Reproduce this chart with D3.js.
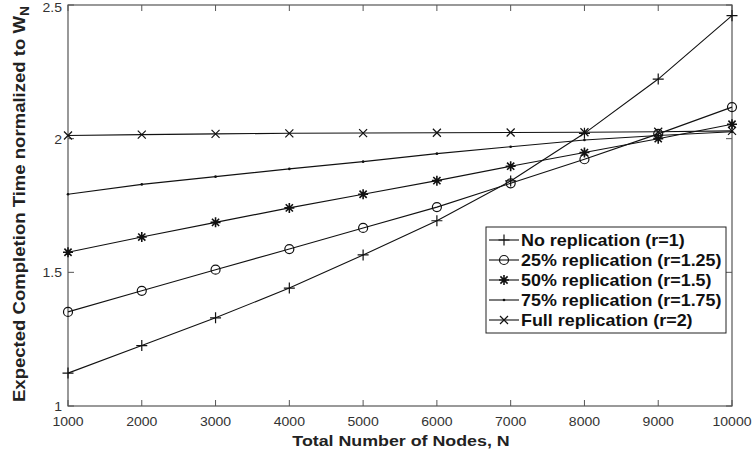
<!DOCTYPE html>
<html><head><meta charset="utf-8">
<script src="https://cdn.jsdelivr.net/npm/d3@7/dist/d3.min.js"></script>
<style>body{margin:0;background:#fff;} svg{display:block;font-family:"Liberation Sans",Arial,sans-serif;}</style>
</head><body>
<svg id="chart" width="753" height="452"></svg>
<script>
const nodes = [1000,2000,3000,4000,5000,6000,7000,8000,9000,10000];
const noRep   = [1.123,1.226,1.330,1.441,1.565,1.693,1.842,2.020,2.223,2.460];
const rep25   = [1.352,1.431,1.510,1.587,1.666,1.744,1.833,1.923,2.018,2.118];
const rep50   = [1.575,1.632,1.687,1.741,1.792,1.843,1.897,1.948,2.000,2.054];
const rep75   = [1.792,1.829,1.858,1.887,1.914,1.944,1.970,1.995,2.012,2.026];
const repFull = [2.012,2.015,2.018,2.020,2.021,2.022,2.023,2.024,2.026,2.029];
const seriesNames = ["No replication (r=1)","25% replication (r=1.25)","50% replication (r=1.5)","75% replication (r=1.75)","Full replication (r=2)"];
const markers = ["plus","circle","star","dot","cross"];
const xTicks = [1000,2000,3000,4000,5000,6000,7000,8000,9000,10000];
const yTicks = [1,1.5,2,2.5];

const series = [noRep,rep25,rep50,rep75,repFull].map((v,i)=>({name:seriesNames[i],marker:markers[i],values:v}));

const svg = d3.select("#chart");
const L=68,R=732,T=5,B=406;
const x = d3.scaleLinear().domain([1000,10000]).range([L,R]);
const y = d3.scaleLinear().domain([1,2.5]).range([B,T]);
const axisCol="#555", txtCol="#333";

// ticks inward on all four sides
const g = svg.append("g");
const tl=6;
xTicks.forEach(t=>{
  g.append("line").attr("x1",x(t)).attr("x2",x(t)).attr("y1",B).attr("y2",B-tl).attr("stroke",axisCol);
  g.append("line").attr("x1",x(t)).attr("x2",x(t)).attr("y1",T).attr("y2",T+tl).attr("stroke",axisCol);
  g.append("text").attr("transform",`translate(${x(t)},${B+20}) scale(1.17,1)`).attr("text-anchor","middle").attr("font-size",12).attr("fill",txtCol).text(t);
});
yTicks.forEach(t=>{
  g.append("line").attr("x1",L).attr("x2",L+tl).attr("y1",y(t)).attr("y2",y(t)).attr("stroke",axisCol);
  g.append("line").attr("x1",R).attr("x2",R-tl).attr("y1",y(t)).attr("y2",y(t)).attr("stroke",axisCol);
  g.append("text").attr("transform",`translate(62,${Math.max(y(t)+5,12)}) scale(1.17,1)`).attr("text-anchor","end").attr("font-size",12).attr("fill",txtCol).text(t);
});
g.append("rect").attr("x",L).attr("y",T).attr("width",R-L).attr("height",B-T).attr("fill","none").attr("stroke",axisCol).attr("stroke-width",1.2);

// lines
const line = d3.line().x((d,i)=>x(nodes[i])).y(d=>y(d));
function drawMarker(sel,type,cx,cy){
  const s=sel.append("g").attr("transform",`translate(${cx},${cy})`).attr("stroke","#111").attr("fill","none").attr("stroke-width",1.2);
  if(type==="plus"){s.append("path").attr("d","M-5.5,0H5.5M0,-5.5V5.5");}
  else if(type==="circle"){s.append("circle").attr("r",4.5);}
  else if(type==="star"){s.append("path").attr("d","M-5,0H5M0,-5V5M-3.6,-3.6L3.6,3.6M-3.6,3.6L3.6,-3.6").attr("stroke-width",1.6);}
  else if(type==="dot"){s.append("circle").attr("r",1.3).attr("fill","#111").attr("stroke","none");}
  else if(type==="cross"){s.append("path").attr("d","M-4,-4L4,4M-4,4L4,-4");}
}
series.forEach(s=>{
  svg.append("path").attr("d",line(s.values)).attr("fill","none").attr("stroke","#111").attr("stroke-width",1.1);
  s.values.forEach((v,i)=>drawMarker(svg,s.marker,x(nodes[i]),y(v)));
});

// legend
const lg = svg.append("g");
lg.append("rect").attr("x",486).attr("y",227).attr("width",240).attr("height",106).attr("fill","#fff").attr("stroke","#222").attr("stroke-width",1);
series.forEach((s,i)=>{
  const yy=240+i*20;
  lg.append("line").attr("x1",489).attr("x2",519).attr("y1",yy).attr("y2",yy).attr("stroke","#111").attr("stroke-width",1.1);
  drawMarker(lg,s.marker,504,yy);
  lg.append("text").attr("transform",`translate(521,${yy+6}) scale(1.12,1)`).attr("font-size",16).attr("font-weight","bold").attr("fill","#111").text(s.name);
});

// axis titles
svg.append("text").attr("transform","translate(401,446) scale(1.15,1)").attr("text-anchor","middle").attr("font-size",15.5).attr("font-weight","bold").attr("fill","#222").text("Total Number of Nodes, N");
const yl = svg.append("text").attr("transform","translate(25,204) rotate(-90) scale(1.16,1)").attr("text-anchor","middle").attr("font-size",16).attr("font-weight","bold").attr("fill","#222");
yl.append("tspan").text("Expected Completion Time normalized to W");
yl.append("tspan").attr("dy",4).attr("font-size",12).text("N");
</script>
</body></html>
